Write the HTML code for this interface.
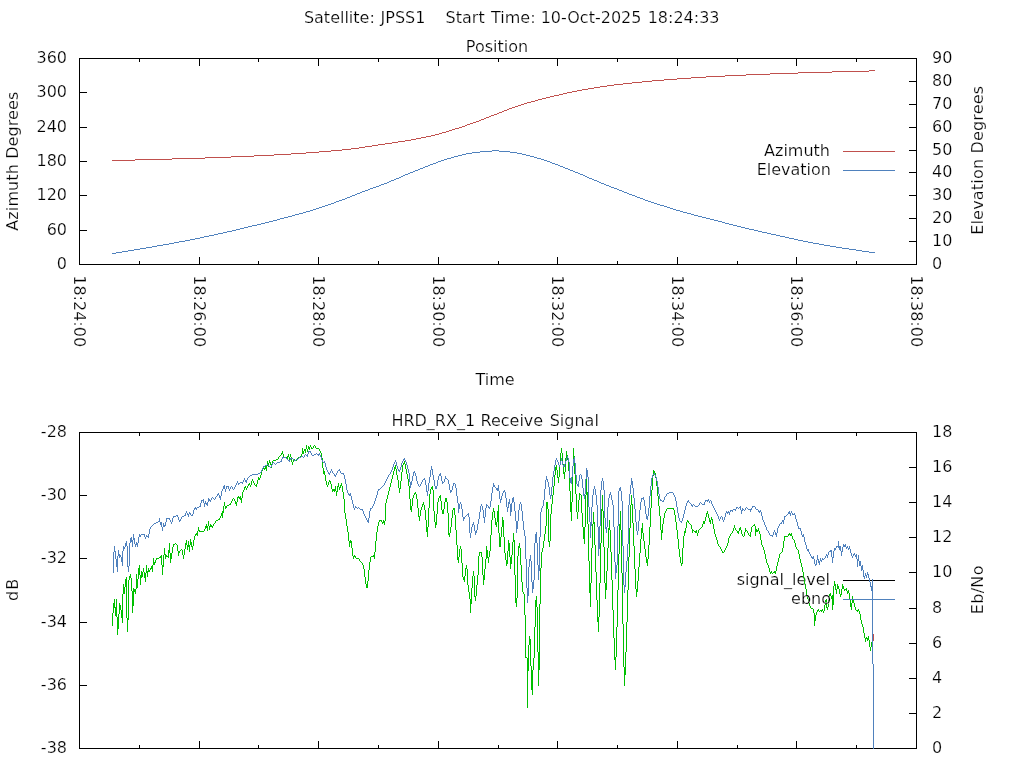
<!DOCTYPE html>
<html lang="en"><head><meta charset="utf-8"><title>JPSS1 pass plot</title>
<style>html,body{margin:0;padding:0;background:#fff;overflow:hidden}svg{display:block;will-change:transform}text{stroke:#fff;stroke-width:.22px}</style>
</head><body>
<svg width="1024" height="768" viewBox="0 0 1024 768" font-family='"DejaVu Sans", "Liberation Sans", sans-serif' font-size="16px" fill="#000">
<rect x="0" y="0" width="1024" height="768" fill="#fff"/>
<text y="23"><tspan x="303.9">Satellite: </tspan><tspan x="380.6">JPSS1 </tspan><tspan x="445.6">Start </tspan><tspan x="491">Time: </tspan><tspan x="540.7">10-Oct-2025 </tspan><tspan x="647.7">18:24:33</tspan></text>
<text x="497" y="52" text-anchor="middle">Position</text>
<text y="426"><tspan x="391.4">HRD_RX_1 </tspan><tspan x="480.5">Receive </tspan><tspan x="549.7">Signal</tspan></text>
<text x="495" y="385" text-anchor="middle">Time</text>
<rect x="79" y="58" width="838" height="1" fill="#000000"/>
<rect x="79" y="264" width="838" height="1" fill="#000000"/>
<rect x="79" y="58" width="1" height="207" fill="#000000"/>
<rect x="916" y="58" width="1" height="207" fill="#000000"/>
<rect x="79" y="257" width="1" height="8" fill="#000000"/>
<rect x="79" y="58" width="1" height="8" fill="#000000"/>
<text x="74" y="275.2" text-anchor="start" transform="rotate(90 74 275.2)">18:24:00</text>
<rect x="139" y="261" width="1" height="4" fill="#000000"/>
<rect x="139" y="58" width="1" height="4" fill="#000000"/>
<rect x="199" y="257" width="1" height="8" fill="#000000"/>
<rect x="199" y="58" width="1" height="8" fill="#000000"/>
<text x="194" y="275.2" text-anchor="start" transform="rotate(90 194 275.2)">18:26:00</text>
<rect x="258" y="261" width="1" height="4" fill="#000000"/>
<rect x="258" y="58" width="1" height="4" fill="#000000"/>
<rect x="318" y="257" width="1" height="8" fill="#000000"/>
<rect x="318" y="58" width="1" height="8" fill="#000000"/>
<text x="313" y="275.2" text-anchor="start" transform="rotate(90 313 275.2)">18:28:00</text>
<rect x="378" y="261" width="1" height="4" fill="#000000"/>
<rect x="378" y="58" width="1" height="4" fill="#000000"/>
<rect x="438" y="257" width="1" height="8" fill="#000000"/>
<rect x="438" y="58" width="1" height="8" fill="#000000"/>
<text x="433" y="275.2" text-anchor="start" transform="rotate(90 433 275.2)">18:30:00</text>
<rect x="498" y="261" width="1" height="4" fill="#000000"/>
<rect x="498" y="58" width="1" height="4" fill="#000000"/>
<rect x="557" y="257" width="1" height="8" fill="#000000"/>
<rect x="557" y="58" width="1" height="8" fill="#000000"/>
<text x="552" y="275.2" text-anchor="start" transform="rotate(90 552 275.2)">18:32:00</text>
<rect x="617" y="261" width="1" height="4" fill="#000000"/>
<rect x="617" y="58" width="1" height="4" fill="#000000"/>
<rect x="677" y="257" width="1" height="8" fill="#000000"/>
<rect x="677" y="58" width="1" height="8" fill="#000000"/>
<text x="672" y="275.2" text-anchor="start" transform="rotate(90 672 275.2)">18:34:00</text>
<rect x="737" y="261" width="1" height="4" fill="#000000"/>
<rect x="737" y="58" width="1" height="4" fill="#000000"/>
<rect x="796" y="257" width="1" height="8" fill="#000000"/>
<rect x="796" y="58" width="1" height="8" fill="#000000"/>
<text x="791" y="275.2" text-anchor="start" transform="rotate(90 791 275.2)">18:36:00</text>
<rect x="856" y="261" width="1" height="4" fill="#000000"/>
<rect x="856" y="58" width="1" height="4" fill="#000000"/>
<rect x="916" y="257" width="1" height="8" fill="#000000"/>
<rect x="916" y="58" width="1" height="8" fill="#000000"/>
<text x="911" y="275.2" text-anchor="start" transform="rotate(90 911 275.2)">18:38:00</text>
<rect x="79" y="264" width="8" height="1" fill="#000000"/>
<text x="67" y="269" text-anchor="end">0</text>
<rect x="79" y="230" width="8" height="1" fill="#000000"/>
<text x="67" y="235" text-anchor="end">60</text>
<rect x="79" y="195" width="8" height="1" fill="#000000"/>
<text x="67" y="200" text-anchor="end">120</text>
<rect x="79" y="161" width="8" height="1" fill="#000000"/>
<text x="67" y="166" text-anchor="end">180</text>
<rect x="79" y="127" width="8" height="1" fill="#000000"/>
<text x="67" y="132" text-anchor="end">240</text>
<rect x="79" y="92" width="8" height="1" fill="#000000"/>
<text x="67" y="97" text-anchor="end">300</text>
<rect x="79" y="58" width="8" height="1" fill="#000000"/>
<text x="67" y="63" text-anchor="end">360</text>
<rect x="909" y="264" width="8" height="1" fill="#000000"/>
<text x="932" y="269" text-anchor="start">0</text>
<rect x="909" y="241" width="8" height="1" fill="#000000"/>
<text x="932" y="246" text-anchor="start">10</text>
<rect x="909" y="218" width="8" height="1" fill="#000000"/>
<text x="932" y="223" text-anchor="start">20</text>
<rect x="909" y="195" width="8" height="1" fill="#000000"/>
<text x="932" y="200" text-anchor="start">30</text>
<rect x="909" y="172" width="8" height="1" fill="#000000"/>
<text x="932" y="177" text-anchor="start">40</text>
<rect x="909" y="150" width="8" height="1" fill="#000000"/>
<text x="932" y="155" text-anchor="start">50</text>
<rect x="909" y="127" width="8" height="1" fill="#000000"/>
<text x="932" y="132" text-anchor="start">60</text>
<rect x="909" y="104" width="8" height="1" fill="#000000"/>
<text x="932" y="109" text-anchor="start">70</text>
<rect x="909" y="81" width="8" height="1" fill="#000000"/>
<text x="932" y="86" text-anchor="start">80</text>
<rect x="909" y="58" width="8" height="1" fill="#000000"/>
<text x="932" y="63" text-anchor="start">90</text>
<text x="18" y="161.2" text-anchor="middle" transform="rotate(-90 18 161.2)" textLength="139">Azimuth Degrees</text>
<text x="983" y="160.3" text-anchor="middle" transform="rotate(-90 983 160.3)" textLength="149">Elevation Degrees</text>
<path d="M869 70.5H875M832 71.5H869M798 72.5H832M770 73.5H798M746 74.5H770M725 75.5H746M706 76.5H725M691 77.5H706M677 78.5H691M664 79.5H677M652 80.5H664M642 81.5H652M632 82.5H642M623 83.5H632M614 84.5H623M607 85.5H614M600 86.5H607M594 87.5H600M588 88.5H594M582 89.5H588M577 90.5H582M572 91.5H577M567 92.5H572M563 93.5H567M559 94.5H563M554 95.5H559M550 96.5H554M546 97.5H550M542 98.5H546M538 99.5H542M535 100.5H538M531 101.5H535M527 102.5H531M524 103.5H527M521 104.5H524M518 105.5H521M515 106.5H518M512 107.5H515M509 108.5H512M507 109.5H509M504 110.5H507M502 111.5H504M499 112.5H502M497 113.5H499M494 114.5H497M491 115.5H494M489 116.5H491M486 117.5H489M484 118.5H486M481 119.5H484M479 120.5H481M476 121.5H479M473 122.5H476M470 123.5H473M467 124.5H470M465 125.5H467M462 126.5H465M459 127.5H462M455 128.5H459M452 129.5H455M449 130.5H452M446 131.5H449M442 132.5H446M439 133.5H442M435 134.5H439M431 135.5H435M426 136.5H431M421 137.5H426M416 138.5H421M411 139.5H416M405 140.5H411M398 141.5H405M392 142.5H398M385 143.5H392M378 144.5H385M372 145.5H378M365 146.5H372M359 147.5H365M351 148.5H359M342 149.5H351M331 150.5H342M319 151.5H331M306 152.5H319M291 153.5H306M274 154.5H291M254 155.5H274M231 156.5H254M205 157.5H231M172 158.5H205M135 159.5H172M112 160.5H135" fill="none" stroke="#c0504d" stroke-width="1" shape-rendering="crispEdges"/>
<path d="M492 150.5H499M480 151.5H492M499 151.5H510M472 152.5H480M510 152.5H517M466 153.5H472M517 153.5H522M462 154.5H466M522 154.5H526M458 155.5H462M526 155.5H530M454 156.5H458M530 156.5H534M451 157.5H454M534 157.5H537M447 158.5H451M537 158.5H541M444 159.5H447M541 159.5H544M441 160.5H444M544 160.5H547M438 161.5H441M547 161.5H550M436 162.5H438M550 162.5H552M433 163.5H436M552 163.5H555M430 164.5H433M555 164.5H558M428 165.5H430M558 165.5H560M425 166.5H428M560 166.5H563M423 167.5H425M563 167.5H565M420 168.5H423M565 168.5H568M418 169.5H420M568 169.5H570M415 170.5H418M570 170.5H573M413 171.5H415M573 171.5H575M410 172.5H413M575 172.5H578M408 173.5H410M578 173.5H580M405 174.5H408M580 174.5H583M403 175.5H405M583 175.5H585M401 176.5H403M585 176.5H587M399 177.5H401M587 177.5H589M396 178.5H399M589 178.5H592M394 179.5H396M592 179.5H594M391 180.5H394M594 180.5H597M389 181.5H391M597 181.5H599M387 182.5H389M599 182.5H601M384 183.5H387M601 183.5H604M381 184.5H384M604 184.5H606M379 185.5H381M606 185.5H609M376 186.5H379M609 186.5H611M373 187.5H376M611 187.5H614M370 188.5H373M614 188.5H617M368 189.5H370M617 189.5H619M365 190.5H368M619 190.5H622M362 191.5H365M622 191.5H624M360 192.5H362M624 192.5H627M357 193.5H360M627 193.5H629M355 194.5H357M629 194.5H632M352 195.5H355M632 195.5H635M350 196.5H352M635 196.5H637M347 197.5H350M637 197.5H640M345 198.5H347M640 198.5H643M342 199.5H345M643 199.5H645M339 200.5H342M645 200.5H648M336 201.5H339M648 201.5H651M334 202.5H336M651 202.5H654M331 203.5H334M654 203.5H657M328 204.5H331M657 204.5H660M325 205.5H328M660 205.5H664M322 206.5H325M664 206.5H667M319 207.5H322M667 207.5H670M316 208.5H319M670 208.5H673M313 209.5H316M673 209.5H676M310 210.5H313M676 210.5H680M306 211.5H310M680 211.5H683M303 212.5H306M683 212.5H687M299 213.5H303M687 213.5H691M295 214.5H299M691 214.5H694M292 215.5H295M694 215.5H698M288 216.5H292M698 216.5H702M284 217.5H288M702 217.5H706M280 218.5H284M706 218.5H710M277 219.5H280M710 219.5H714M273 220.5H277M714 220.5H718M269 221.5H273M718 221.5H722M265 222.5H269M722 222.5H725M261 223.5H265M725 223.5H729M257 224.5H261M729 224.5H733M252 225.5H257M733 225.5H737M248 226.5H252M737 226.5H741M244 227.5H248M741 227.5H745M240 228.5H244M745 228.5H749M236 229.5H240M749 229.5H754M232 230.5H236M754 230.5H758M227 231.5H232M758 231.5H762M223 232.5H227M762 232.5H767M218 233.5H223M767 233.5H771M214 234.5H218M771 234.5H776M209 235.5H214M776 235.5H780M204 236.5H209M780 236.5H785M200 237.5H204M785 237.5H789M195 238.5H200M789 238.5H794M190 239.5H195M794 239.5H798M185 240.5H190M798 240.5H803M179 241.5H185M803 241.5H808M174 242.5H179M808 242.5H813M169 243.5H174M813 243.5H819M163 244.5H169M819 244.5H824M157 245.5H163M824 245.5H830M152 246.5H157M830 246.5H836M146 247.5H152M836 247.5H842M140 248.5H146M842 248.5H849M134 249.5H140M849 249.5H856M128 250.5H134M856 250.5H862M122 251.5H128M862 251.5H869M116 252.5H122M869 252.5H875M112 253.5H116" fill="none" stroke="#4f81bd" stroke-width="1" shape-rendering="crispEdges"/>
<text x="830" y="156" text-anchor="end">Azimuth</text>
<text x="831" y="175" text-anchor="end">Elevation</text>
<rect x="843" y="151" width="52" height="1" fill="#c0504d"/>
<rect x="843" y="170" width="52" height="1" fill="#4f81bd"/>
<rect x="79" y="432" width="838" height="1" fill="#000000"/>
<rect x="79" y="748" width="838" height="1" fill="#000000"/>
<rect x="79" y="432" width="1" height="317" fill="#000000"/>
<rect x="916" y="432" width="1" height="317" fill="#000000"/>
<rect x="79" y="741" width="1" height="8" fill="#000000"/>
<rect x="79" y="432" width="1" height="8" fill="#000000"/>
<rect x="139" y="745" width="1" height="4" fill="#000000"/>
<rect x="139" y="432" width="1" height="4" fill="#000000"/>
<rect x="199" y="741" width="1" height="8" fill="#000000"/>
<rect x="199" y="432" width="1" height="8" fill="#000000"/>
<rect x="258" y="745" width="1" height="4" fill="#000000"/>
<rect x="258" y="432" width="1" height="4" fill="#000000"/>
<rect x="318" y="741" width="1" height="8" fill="#000000"/>
<rect x="318" y="432" width="1" height="8" fill="#000000"/>
<rect x="378" y="745" width="1" height="4" fill="#000000"/>
<rect x="378" y="432" width="1" height="4" fill="#000000"/>
<rect x="438" y="741" width="1" height="8" fill="#000000"/>
<rect x="438" y="432" width="1" height="8" fill="#000000"/>
<rect x="498" y="745" width="1" height="4" fill="#000000"/>
<rect x="498" y="432" width="1" height="4" fill="#000000"/>
<rect x="557" y="741" width="1" height="8" fill="#000000"/>
<rect x="557" y="432" width="1" height="8" fill="#000000"/>
<rect x="617" y="745" width="1" height="4" fill="#000000"/>
<rect x="617" y="432" width="1" height="4" fill="#000000"/>
<rect x="677" y="741" width="1" height="8" fill="#000000"/>
<rect x="677" y="432" width="1" height="8" fill="#000000"/>
<rect x="737" y="745" width="1" height="4" fill="#000000"/>
<rect x="737" y="432" width="1" height="4" fill="#000000"/>
<rect x="796" y="741" width="1" height="8" fill="#000000"/>
<rect x="796" y="432" width="1" height="8" fill="#000000"/>
<rect x="856" y="745" width="1" height="4" fill="#000000"/>
<rect x="856" y="432" width="1" height="4" fill="#000000"/>
<rect x="916" y="741" width="1" height="8" fill="#000000"/>
<rect x="916" y="432" width="1" height="8" fill="#000000"/>
<rect x="79" y="748" width="8" height="1" fill="#000000"/>
<text x="67" y="753" text-anchor="end">-38</text>
<rect x="79" y="685" width="8" height="1" fill="#000000"/>
<text x="67" y="690" text-anchor="end">-36</text>
<rect x="79" y="622" width="8" height="1" fill="#000000"/>
<text x="67" y="627" text-anchor="end">-34</text>
<rect x="79" y="558" width="8" height="1" fill="#000000"/>
<text x="67" y="563" text-anchor="end">-32</text>
<rect x="79" y="495" width="8" height="1" fill="#000000"/>
<text x="67" y="500" text-anchor="end">-30</text>
<rect x="79" y="432" width="8" height="1" fill="#000000"/>
<text x="67" y="437" text-anchor="end">-28</text>
<rect x="909" y="748" width="8" height="1" fill="#000000"/>
<text x="932" y="753" text-anchor="start">0</text>
<rect x="909" y="713" width="8" height="1" fill="#000000"/>
<text x="932" y="718" text-anchor="start">2</text>
<rect x="909" y="678" width="8" height="1" fill="#000000"/>
<text x="932" y="683" text-anchor="start">4</text>
<rect x="909" y="643" width="8" height="1" fill="#000000"/>
<text x="932" y="648" text-anchor="start">6</text>
<rect x="909" y="608" width="8" height="1" fill="#000000"/>
<text x="932" y="613" text-anchor="start">8</text>
<rect x="909" y="572" width="8" height="1" fill="#000000"/>
<text x="932" y="577" text-anchor="start">10</text>
<rect x="909" y="537" width="8" height="1" fill="#000000"/>
<text x="932" y="542" text-anchor="start">12</text>
<rect x="909" y="502" width="8" height="1" fill="#000000"/>
<text x="932" y="507" text-anchor="start">14</text>
<rect x="909" y="467" width="8" height="1" fill="#000000"/>
<text x="932" y="472" text-anchor="start">16</text>
<rect x="909" y="432" width="8" height="1" fill="#000000"/>
<text x="932" y="437" text-anchor="start">18</text>
<text x="18" y="589.9" text-anchor="middle" transform="rotate(-90 18 589.9)" textLength="22.4">dB</text>
<text x="983" y="589.9" text-anchor="middle" transform="rotate(-90 983 589.9)" textLength="48.7">Eb/No</text>
<text x="830" y="585" text-anchor="end">signal_level</text>
<rect x="843" y="580" width="52" height="1" fill="#000000"/>
<path d="M112.5 613V626M113.5 603V613M114.5 599V608M115.5 607V616M116.5 599V617M117.5 617V635M118.5 614V629M119.5 603V614M120.5 605V610M121.5 610V618M122.5 594V623M123.5 584V594M124.5 587V594M125.5 579V587M126.5 577V618M127.5 618V632M128.5 580V620M129.5 576V580M130.5 574V578M131.5 578V591M132.5 591V613M133.5 588V606M134.5 589V592M135.5 589V594M136.5 574V589M137.5 579V588M138.5 568V579M139.5 565V575M140.5 575V585M141.5 571V578M142.5 572V577M143.5 568V572M144.5 572V578M145.5 573V582M146.5 565V573M147.5 571V577M148.5 568V572M149.5 570V572M150.5 568V570M151.5 566V569M152.5 565V572M153.5 558V565M154.5 562V565M155.5 560V563M156.5 558V560M157.5 558V559M158.5 558V559M159.5 557V558M160.5 556V558M161.5 555V565M162.5 565V575M163.5 555V567M164.5 548V555M165.5 554V559M166.5 555V557M167.5 556V557M168.5 550V558M169.5 543V553M170.5 553V563M171.5 553V559M172.5 547V553M173.5 544V547M174.5 544V545M175.5 543V544M176.5 544V545M177.5 545V551M178.5 551V556M179.5 551V553M180.5 550V551M181.5 549V550M182.5 550V555M183.5 555V559M184.5 549V555M185.5 543V549M186.5 540V545M187.5 545V550M188.5 541V547M189.5 545V552M190.5 539V545M191.5 542V547M192.5 546V550M193.5 540V546M194.5 536V540M195.5 534V536M196.5 533V535M197.5 531V536M198.5 527V531M199.5 530V532M200.5 531V532M201.5 531V532M202.5 531V532M203.5 531V532M204.5 529V531M205.5 526V529M206.5 524V528M207.5 526V531M208.5 521V526M209.5 526V530M210.5 524V527M211.5 525V527M212.5 526V528M213.5 524V526M214.5 523V524M215.5 521V523M216.5 520V521M217.5 520V521M218.5 519V520M219.5 518V520M220.5 516V518M221.5 513V516M222.5 511V518M223.5 506V513M224.5 502V506M225.5 506V509M226.5 506V508M227.5 505V506M228.5 505V506M229.5 504V505M230.5 503V505M231.5 501V503M232.5 499V501M233.5 498V499M234.5 499V501M235.5 501V504M236.5 502V506M237.5 497V502M238.5 496V498M239.5 497V499M240.5 496V500M241.5 498V503M242.5 492V498M243.5 490V492M244.5 487V490M245.5 486V488M246.5 488V490M247.5 486V488M248.5 484V486M249.5 483V485M250.5 485V487M251.5 481V485M252.5 479V481M253.5 481V483M254.5 483V485M255.5 485V486M256.5 484V487M257.5 480V484M258.5 477V480M259.5 478V480M260.5 475V478M261.5 471V475M262.5 468V471M263.5 467V469M264.5 468V470M265.5 466V469M266.5 466V471M267.5 461V466M268.5 463V467M269.5 460V463M270.5 462V465M271.5 464V468M272.5 461V464M273.5 460V461M274.5 460V461M275.5 460V461M276.5 459V460M277.5 459V460M278.5 457V459M279.5 456V457M280.5 455V456M281.5 453V455M282.5 451V454M283.5 454V457M284.5 457V458M285.5 457V458M286.5 457V458M287.5 456V459M288.5 454V457M289.5 457V460M290.5 454V457M291.5 457V462M292.5 462V465M293.5 459V462M294.5 459V460M295.5 460V461M296.5 460V461M297.5 458V460M298.5 457V458M299.5 457V458M300.5 456V458M301.5 454V456M302.5 448V454M303.5 451V454M304.5 449V451M305.5 449V453M306.5 445V449M307.5 449V452M308.5 446V449M309.5 447V450M310.5 445V447M311.5 447V449M312.5 448V449M313.5 446V448M314.5 445V446M315.5 446V448M316.5 448V449M317.5 448V449M318.5 448V449M319.5 449V451M320.5 451V453M321.5 453V458M322.5 458V468M323.5 468V474M324.5 471V475M325.5 475V481M326.5 481V485M327.5 485V487M328.5 482V485M329.5 480V482M330.5 481V484M331.5 484V489M332.5 489V492M333.5 489V491M334.5 489V492M335.5 486V491M336.5 491V496M337.5 486V492M338.5 483V487M339.5 487V490M340.5 485V488M341.5 483V486M342.5 486V492M343.5 492V499M344.5 499V513M345.5 513V519M346.5 519V526M347.5 526V532M348.5 532V541M349.5 541V547M350.5 540V543M351.5 541V548M352.5 548V556M353.5 556V559M354.5 555V557M355.5 556V558M356.5 558V559M357.5 558V559M358.5 558V559M359.5 559V561M360.5 561V562M361.5 562V563M362.5 563V565M363.5 565V569M364.5 569V577M365.5 577V584M366.5 584V588M367.5 581V588M368.5 570V581M369.5 562V570M370.5 557V562M371.5 556V557M372.5 556V557M373.5 555V557M374.5 552V559M375.5 541V552M376.5 532V541M377.5 526V532M378.5 522V526M379.5 520V522M380.5 520V521M381.5 520V522M382.5 522V524M383.5 520V523M384.5 521V525M385.5 503V521M386.5 499V503M387.5 495V499M388.5 491V495M389.5 487V491M390.5 483V487M391.5 479V483M392.5 475V479M393.5 471V475M394.5 467V471M395.5 465V469M396.5 469V475M397.5 475V480M398.5 480V488M399.5 488V493M400.5 481V489M401.5 472V481M402.5 465V472M403.5 463V465M404.5 461V464M405.5 464V469M406.5 469V474M407.5 474V479M408.5 479V486M409.5 486V499M410.5 499V510M411.5 506V512M412.5 498V506M413.5 495V498M414.5 493V495M415.5 492V494M416.5 494V499M417.5 499V508M418.5 508V517M419.5 516V521M420.5 510V516M421.5 507V510M422.5 504V507M423.5 502V505M424.5 505V510M425.5 510V520M426.5 520V532M427.5 527V537M428.5 508V527M429.5 494V508M430.5 489V494M431.5 487V489M432.5 486V490M433.5 490V511M434.5 511V522M435.5 522V528M436.5 514V525M437.5 502V514M438.5 498V502M439.5 496V498M440.5 495V501M441.5 501V510M442.5 510V514M443.5 509V514M444.5 502V509M445.5 498V502M446.5 498V502M447.5 502V513M448.5 513V535M449.5 533V537M450.5 527V533M451.5 518V527M452.5 510V518M453.5 508V510M454.5 508V515M455.5 515V530M456.5 530V545M457.5 545V560M458.5 557V563M459.5 549V557M460.5 546V549M461.5 549V563M462.5 563V577M463.5 577V580M464.5 576V582M465.5 568V576M466.5 565V569M467.5 569V585M468.5 585V592M469.5 592V599M470.5 599V613M471.5 588V604M472.5 576V588M473.5 571V576M474.5 576V597M475.5 596V601M476.5 585V596M477.5 575V585M478.5 556V575M479.5 552V556M480.5 552V553M481.5 552V557M482.5 557V575M483.5 575V585M484.5 569V580M485.5 559V569M486.5 546V559M487.5 550V558M488.5 557V563M489.5 551V557M490.5 535V551M491.5 520V535M492.5 512V520M493.5 508V512M494.5 511V518M495.5 518V525M496.5 522V527M497.5 511V522M498.5 505V533M499.5 533V547M500.5 537V547M501.5 527V537M502.5 517V527M503.5 520V537M504.5 537V553M505.5 553V560M506.5 560V566M507.5 551V564M508.5 540V551M509.5 543V557M510.5 557V569M511.5 555V564M512.5 542V555M513.5 533V542M514.5 540V575M515.5 575V603M516.5 598V607M517.5 556V598M518.5 546V556M519.5 543V548M520.5 548V565M521.5 565V582M522.5 582V592M523.5 592V594M524.5 594V615M525.5 615V658M526.5 657V658M527.5 658V708M528.5 645V671M529.5 636V645M530.5 639V666M531.5 666V690M532.5 670V695M533.5 658V670M534.5 627V658M535.5 600V627M536.5 596V607M537.5 607V652M538.5 652V686M539.5 604V670M540.5 568V604M541.5 552V568M542.5 548V552M543.5 541V548M544.5 534V541M545.5 526V534M546.5 502V526M547.5 502V509M548.5 509V542M549.5 541V547M550.5 514V541M551.5 504V514M552.5 495V504M553.5 486V495M554.5 475V486M555.5 467V475M556.5 465V470M557.5 470V478M558.5 477V483M559.5 465V477M560.5 453V465M561.5 448V453M562.5 453V464M563.5 464V474M564.5 472V479M565.5 458V472M566.5 451V458M567.5 455V460M568.5 460V471M569.5 471V491M570.5 491V512M571.5 502V521M572.5 466V502M573.5 448V466M574.5 456V474M575.5 474V494M576.5 494V512M577.5 512V519M578.5 500V512M579.5 493V500M580.5 494V495M581.5 495V513M582.5 513V527M583.5 527V539M584.5 527V544M585.5 495V527M586.5 478V495M587.5 492V524M588.5 524V561M589.5 561V593M590.5 583V607M591.5 548V583M592.5 524V548M593.5 512V524M594.5 522V545M595.5 545V572M596.5 572V600M597.5 600V622M598.5 617V632M599.5 583V617M600.5 543V583M601.5 509V543M602.5 495V511M603.5 511V547M604.5 547V583M605.5 583V599M606.5 571V590M607.5 548V571M608.5 528V548M609.5 520V530M610.5 530V552M611.5 552V580M612.5 580V610M613.5 610V638M614.5 638V660M615.5 657V670M616.5 627V657M617.5 590V627M618.5 554V590M619.5 524V554M620.5 511V530M621.5 530V573M622.5 573V624M623.5 624V667M624.5 667V686M625.5 652V675M626.5 622V652M627.5 590V622M628.5 557V590M629.5 528V557M630.5 505V528M631.5 495V505M632.5 504V523M633.5 523V546M634.5 546V569M635.5 569V589M636.5 589V597M637.5 581V592M638.5 567V581M639.5 553V567M640.5 539V553M641.5 528V539M642.5 523V533M643.5 533V541M644.5 541V549M645.5 549V557M646.5 557V563M647.5 559V566M648.5 545V559M649.5 527V545M650.5 508V527M651.5 490V508M652.5 476V490M653.5 470V476M654.5 471V473M655.5 473V478M656.5 478V486M657.5 486V496M658.5 496V506M659.5 506V516M660.5 516V530M661.5 530V540M662.5 524V533M663.5 518V524M664.5 513V518M665.5 511V513M666.5 509V511M667.5 508V509M668.5 508V509M669.5 508V509M670.5 508V509M671.5 508V509M672.5 508V509M673.5 508V510M674.5 510V515M675.5 515V522M676.5 522V530M677.5 530V539M678.5 539V549M679.5 549V557M680.5 557V563M681.5 563V566M682.5 548V564M683.5 536V548M684.5 531V536M685.5 528V533M686.5 522V528M687.5 520V522M688.5 521V523M689.5 523V524M690.5 524V525M691.5 525V529M692.5 529V533M693.5 530V531M694.5 531V532M695.5 531V533M696.5 530V533M697.5 533V536M698.5 530V533M699.5 529V530M700.5 528V529M701.5 527V528M702.5 524V527M703.5 521V524M704.5 521V524M705.5 517V521M706.5 513V517M707.5 511V514M708.5 514V518M709.5 518V522M710.5 520V524M711.5 517V520M712.5 519V524M713.5 524V529M714.5 529V534M715.5 534V537M716.5 537V540M717.5 540V544M718.5 544V546M719.5 546V547M720.5 547V549M721.5 549V551M722.5 551V553M723.5 552V553M724.5 550V552M725.5 548V550M726.5 546V548M727.5 543V546M728.5 538V543M729.5 536V538M730.5 534V536M731.5 533V534M732.5 531V533M733.5 528V531M734.5 525V528M735.5 528V530M736.5 530V531M737.5 531V533M738.5 531V534M739.5 528V531M740.5 527V530M741.5 530V534M742.5 534V536M743.5 536V537M744.5 532V536M745.5 528V532M746.5 530V531M747.5 531V533M748.5 533V535M749.5 535V536M750.5 532V537M751.5 527V532M752.5 526V527M753.5 525V526M754.5 524V526M755.5 526V536M756.5 529V532M757.5 530V532M758.5 528V531M759.5 531V534M760.5 534V540M761.5 540V545M762.5 545V547M763.5 547V550M764.5 550V554M765.5 554V559M766.5 559V563M767.5 563V565M768.5 565V568M769.5 568V572M770.5 572V574M771.5 571V573M772.5 573V574M773.5 572V573M774.5 571V573M775.5 571V574M776.5 566V571M777.5 562V566M778.5 558V562M779.5 554V558M780.5 553V554M781.5 552V553M782.5 548V552M783.5 541V548M784.5 536V541M785.5 536V537M786.5 536V537M787.5 536V537M788.5 534V536M789.5 533V535M790.5 534V536M791.5 533V536M792.5 536V539M793.5 539V540M794.5 540V543M795.5 543V547M796.5 547V549M797.5 549V550M798.5 550V554M799.5 554V559M800.5 559V563M801.5 563V567M802.5 567V572M803.5 572V578M804.5 578V584M805.5 584V589M806.5 589V595M807.5 595V599M808.5 599V603M809.5 603V606M810.5 606V608M811.5 608V609M812.5 608V609M813.5 609V613M814.5 613V626M815.5 615V621M816.5 612V615M817.5 610V612M818.5 609V611M819.5 611V612M820.5 610V611M821.5 610V612M822.5 609V611M823.5 611V613M824.5 605V611M825.5 600V605M826.5 599V608M827.5 607V610M828.5 600V607M829.5 594V600M830.5 593V596M831.5 596V599M832.5 595V610M833.5 586V605M834.5 581V586M835.5 584V590M836.5 589V594M837.5 584V589M838.5 586V589M839.5 589V594M840.5 594V597M841.5 589V595M842.5 584V589M843.5 586V589M844.5 589V591M845.5 589V590M846.5 588V591M847.5 591V594M848.5 590V593M849.5 593V599M850.5 599V607M851.5 603V610M852.5 596V603M853.5 599V603M854.5 603V607M855.5 607V610M856.5 610V611M857.5 610V612M858.5 609V611M859.5 611V614M860.5 614V620M861.5 620V624M862.5 624V627M863.5 627V633M864.5 633V638M865.5 638V642M866.5 637V639M867.5 638V641M868.5 636V640M869.5 640V647M870.5 647V651M871.5 642V647M872.5 641V642" fill="none" stroke="#00c000" stroke-width="1" shape-rendering="crispEdges"/>
<text x="831" y="604" text-anchor="end">ebno</text>
<rect x="843" y="599" width="52" height="1" fill="#4f81bd"/>
<path d="M113.5 552V573M114.5 546V552M115.5 551V559M116.5 559V567M117.5 556V572M118.5 550V556M119.5 554V558M120.5 555V557M121.5 557V562M122.5 551V566M123.5 546V551M124.5 547V549M125.5 543V547M126.5 541V546M127.5 546V567M128.5 566V572M129.5 543V566M130.5 538V543M131.5 537V542M132.5 540V547M133.5 534V540M134.5 538V544M135.5 544V547M136.5 542V545M137.5 543V547M138.5 537V543M139.5 534V537M140.5 535V537M141.5 534V535M142.5 534V535M143.5 534V535M144.5 534V537M145.5 537V539M146.5 535V537M147.5 536V537M148.5 534V538M149.5 529V534M150.5 527V529M151.5 526V527M152.5 525V526M153.5 524V525M154.5 523V524M155.5 523V524M156.5 522V523M157.5 522V523M158.5 521V522M159.5 518V522M160.5 522V525M161.5 522V527M162.5 527V531M163.5 523V527M164.5 525V527M165.5 522V526M166.5 518V522M167.5 518V519M168.5 518V519M169.5 518V520M170.5 520V522M171.5 522V524M172.5 518V522M173.5 516V518M174.5 516V517M175.5 516V517M176.5 515V516M177.5 515V517M178.5 517V520M179.5 520V522M180.5 519V521M181.5 517V519M182.5 516V517M183.5 516V517M184.5 515V516M185.5 513V516M186.5 511V513M187.5 513V515M188.5 514V517M189.5 512V514M190.5 513V515M191.5 515V516M192.5 514V516M193.5 510V514M194.5 508V510M195.5 507V509M196.5 508V510M197.5 507V508M198.5 507V508M199.5 506V507M200.5 503V507M201.5 500V503M202.5 500V501M203.5 499V503M204.5 503V507M205.5 501V504M206.5 503V505M207.5 502V506M208.5 498V502M209.5 499V501M210.5 500V502M211.5 498V500M212.5 497V498M213.5 498V499M214.5 499V500M215.5 497V499M216.5 496V497M217.5 494V496M218.5 493V495M219.5 495V498M220.5 496V500M221.5 491V496M222.5 489V491M223.5 486V489M224.5 485V489M225.5 489V492M226.5 486V489M227.5 486V487M228.5 486V489M229.5 489V491M230.5 487V489M231.5 486V487M232.5 487V489M233.5 489V490M234.5 487V489M235.5 485V487M236.5 483V485M237.5 481V483M238.5 483V485M239.5 483V484M240.5 482V483M241.5 482V483M242.5 482V484M243.5 480V482M244.5 478V480M245.5 480V482M246.5 480V483M247.5 478V480M248.5 477V478M249.5 476V477M250.5 475V476M251.5 475V476M252.5 474V475M253.5 474V475M254.5 474V475M255.5 474V475M256.5 474V475M257.5 474V475M258.5 473V474M259.5 473V474M260.5 472V473M261.5 470V472M262.5 468V470M263.5 466V468M264.5 466V467M265.5 465V466M266.5 465V466M267.5 464V465M268.5 465V466M269.5 466V467M270.5 467V468M271.5 465V467M272.5 463V465M273.5 462V463M274.5 463V464M275.5 464V465M276.5 463V464M277.5 462V463M278.5 462V463M279.5 462V463M280.5 461V462M281.5 459V462M282.5 457V459M283.5 457V458M284.5 457V458M285.5 457V458M286.5 458V459M287.5 459V460M288.5 460V461M289.5 460V462M290.5 458V460M291.5 458V459M292.5 458V459M293.5 459V460M294.5 460V461M295.5 460V461M296.5 459V460M297.5 459V460M298.5 458V459M299.5 457V458M300.5 457V458M301.5 456V457M302.5 456V457M303.5 457V458M304.5 455V457M305.5 454V455M306.5 455V456M307.5 454V457M308.5 451V454M309.5 451V452M310.5 451V453M311.5 453V455M312.5 455V456M313.5 455V456M314.5 454V455M315.5 454V455M316.5 453V454M317.5 454V455M318.5 454V456M319.5 453V455M320.5 455V457M321.5 457V460M322.5 460V462M323.5 462V463M324.5 461V463M325.5 463V467M326.5 467V470M327.5 470V472M328.5 472V474M329.5 473V475M330.5 471V473M331.5 469V471M332.5 471V473M333.5 473V474M334.5 474V476M335.5 475V477M336.5 473V475M337.5 471V473M338.5 470V471M339.5 469V471M340.5 471V473M341.5 473V474M342.5 473V474M343.5 473V475M344.5 475V479M345.5 479V484M346.5 484V490M347.5 490V493M348.5 493V495M349.5 494V496M350.5 493V496M351.5 496V500M352.5 500V504M353.5 504V508M354.5 508V510M355.5 506V508M356.5 507V508M357.5 508V509M358.5 507V508M359.5 508V509M360.5 509V510M361.5 509V510M362.5 509V511M363.5 511V514M364.5 514V516M365.5 516V518M366.5 518V520M367.5 520V522M368.5 518V523M369.5 511V518M370.5 508V511M371.5 508V509M372.5 506V508M373.5 504V506M374.5 501V504M375.5 498V501M376.5 495V498M377.5 491V495M378.5 489V491M379.5 489V490M380.5 488V489M381.5 487V488M382.5 486V487M383.5 485V486M384.5 483V485M385.5 481V483M386.5 479V481M387.5 477V479M388.5 475V477M389.5 474V475M390.5 472V474M391.5 470V472M392.5 467V470M393.5 464V467M394.5 462V464M395.5 460V462M396.5 462V466M397.5 466V469M398.5 469V471M399.5 470V472M400.5 467V470M401.5 463V467M402.5 461V463M403.5 459V461M404.5 458V460M405.5 460V462M406.5 462V465M407.5 465V469M408.5 469V473M409.5 473V482M410.5 482V488M411.5 481V485M412.5 476V481M413.5 472V476M414.5 471V473M415.5 473V476M416.5 476V481M417.5 481V484M418.5 484V486M419.5 486V487M420.5 484V486M421.5 482V484M422.5 480V482M423.5 479V480M424.5 478V480M425.5 480V485M426.5 485V492M427.5 491V496M428.5 483V491M429.5 477V483M430.5 470V477M431.5 466V470M432.5 469V475M433.5 475V480M434.5 480V486M435.5 486V489M436.5 486V489M437.5 480V486M438.5 476V480M439.5 474V476M440.5 473V476M441.5 476V481M442.5 481V484M443.5 482V483M444.5 479V482M445.5 476V479M446.5 478V479M447.5 479V480M448.5 480V484M449.5 484V490M450.5 490V493M451.5 490V492M452.5 486V490M453.5 483V486M454.5 483V484M455.5 484V488M456.5 488V496M457.5 496V503M458.5 503V513M459.5 504V509M460.5 502V504M461.5 504V509M462.5 509V517M463.5 517V521M464.5 517V519M465.5 516V517M466.5 515V516M467.5 514V515M468.5 513V517M469.5 517V533M470.5 533V538M471.5 527V533M472.5 524V527M473.5 522V525M474.5 525V531M475.5 531V535M476.5 530V533M477.5 524V530M478.5 519V524M479.5 512V519M480.5 506V512M481.5 504V506M482.5 506V510M483.5 510V518M484.5 517V523M485.5 508V517M486.5 504V508M487.5 505V506M488.5 506V508M489.5 507V509M490.5 501V507M491.5 493V501M492.5 487V493M493.5 483V487M494.5 485V487M495.5 487V488M496.5 488V490M497.5 488V491M498.5 485V491M499.5 491V499M500.5 499V503M501.5 496V500M502.5 493V496M503.5 491V493M504.5 490V492M505.5 492V498M506.5 498V507M507.5 507V512M508.5 502V508M509.5 499V504M510.5 504V516M511.5 503V512M512.5 498V503M513.5 497V502M514.5 502V511M515.5 511V521M516.5 521V533M517.5 521V529M518.5 510V521M519.5 504V510M520.5 502V504M521.5 504V511M522.5 511V521M523.5 521V530M524.5 530V536M525.5 536V559M526.5 559V588M527.5 588V603M528.5 567V596M529.5 559V567M530.5 555V561M531.5 561V582M532.5 582V593M533.5 580V589M534.5 543V580M535.5 534V543M536.5 532V543M537.5 543V565M538.5 565V580M539.5 537V571M540.5 512V537M541.5 508V512M542.5 506V508M543.5 500V506M544.5 489V500M545.5 480V489M546.5 476V480M547.5 479V482M548.5 482V487M549.5 487V495M550.5 495V499M551.5 487V496M552.5 477V487M553.5 471V477M554.5 465V471M555.5 460V465M556.5 458V460M557.5 460V462M558.5 462V465M559.5 465V467M560.5 461V465M561.5 458V461M562.5 461V465M563.5 465V467M564.5 464V467M565.5 461V464M566.5 458V461M567.5 456V458M568.5 458V462M569.5 462V478M570.5 478V483M571.5 477V484M572.5 466V477M573.5 459V466M574.5 457V463M575.5 463V475M576.5 475V484M577.5 484V486M578.5 481V487M579.5 475V481M580.5 474V475M581.5 475V479M582.5 479V488M583.5 488V496M584.5 494V499M585.5 479V494M586.5 468V479M587.5 470V477M588.5 477V507M589.5 507V522M590.5 522V538M591.5 507V526M592.5 495V507M593.5 489V495M594.5 486V489M595.5 489V495M596.5 495V505M597.5 505V527M598.5 527V556M599.5 526V549M600.5 490V526M601.5 481V490M602.5 478V481M603.5 481V490M604.5 490V518M605.5 518V529M606.5 527V533M607.5 507V527M608.5 498V507M609.5 494V498M610.5 492V495M611.5 495V500M612.5 500V505M613.5 505V527M614.5 527V562M615.5 562V579M616.5 565V573M617.5 526V565M618.5 491V526M619.5 488V491M620.5 487V491M621.5 491V501M622.5 501V546M623.5 546V585M624.5 585V593M625.5 572V587M626.5 561V572M627.5 544V561M628.5 505V544M629.5 494V505M630.5 485V494M631.5 478V485M632.5 481V488M633.5 488V498M634.5 498V509M635.5 509V522M636.5 522V531M637.5 531V535M638.5 521V531M639.5 510V521M640.5 502V510M641.5 498V502M642.5 498V499M643.5 497V500M644.5 500V506M645.5 506V514M646.5 514V519M647.5 516V520M648.5 508V516M649.5 496V508M650.5 486V496M651.5 478V486M652.5 475V478M653.5 474V475M654.5 473V475M655.5 475V477M656.5 477V481M657.5 481V487M658.5 487V494M659.5 494V499M660.5 499V501M661.5 500V501M662.5 501V502M663.5 500V502M664.5 497V500M665.5 496V497M666.5 494V496M667.5 493V494M668.5 493V494M669.5 492V493M670.5 492V493M671.5 492V493M672.5 492V493M673.5 493V495M674.5 495V497M675.5 497V501M676.5 501V507M677.5 507V513M678.5 513V518M679.5 518V521M680.5 521V522M681.5 521V523M682.5 518V521M683.5 514V518M684.5 510V514M685.5 506V510M686.5 503V506M687.5 501V503M688.5 500V502M689.5 502V503M690.5 503V504M691.5 504V506M692.5 505V507M693.5 504V505M694.5 505V506M695.5 506V507M696.5 506V507M697.5 506V507M698.5 505V506M699.5 503V505M700.5 502V503M701.5 503V504M702.5 504V505M703.5 504V505M704.5 502V505M705.5 500V502M706.5 500V501M707.5 500V502M708.5 499V501M709.5 501V503M710.5 500V501M711.5 501V504M712.5 504V506M713.5 506V508M714.5 508V510M715.5 510V512M716.5 512V514M717.5 514V516M718.5 516V519M719.5 519V521M720.5 517V519M721.5 516V517M722.5 517V520M723.5 520V522M724.5 517V520M725.5 513V517M726.5 511V513M727.5 512V514M728.5 511V513M729.5 512V515M730.5 510V512M731.5 510V511M732.5 510V512M733.5 509V510M734.5 509V510M735.5 509V511M736.5 507V509M737.5 507V508M738.5 508V509M739.5 507V508M740.5 506V510M741.5 510V514M742.5 508V511M743.5 509V510M744.5 510V511M745.5 508V510M746.5 507V508M747.5 508V509M748.5 509V510M749.5 509V510M750.5 509V512M751.5 508V510M752.5 506V508M753.5 506V507M754.5 506V507M755.5 507V509M756.5 509V510M757.5 509V510M758.5 510V512M759.5 511V513M760.5 510V512M761.5 512V516M762.5 516V520M763.5 520V522M764.5 522V525M765.5 525V527M766.5 527V530M767.5 530V531M768.5 531V533M769.5 533V535M770.5 535V536M771.5 535V536M772.5 535V537M773.5 532V535M774.5 530V532M775.5 532V535M776.5 533V537M777.5 528V533M778.5 526V528M779.5 524V526M780.5 523V524M781.5 522V524M782.5 520V522M783.5 520V524M784.5 516V520M785.5 516V517M786.5 515V516M787.5 514V515M788.5 512V514M789.5 511V514M790.5 513V516M791.5 511V513M792.5 513V515M793.5 514V515M794.5 513V515M795.5 515V519M796.5 519V522M797.5 522V526M798.5 526V529M799.5 528V529M800.5 528V531M801.5 531V535M802.5 535V537M803.5 534V537M804.5 537V542M805.5 542V545M806.5 545V549M807.5 549V551M808.5 549V552M809.5 552V554M810.5 554V556M811.5 556V558M812.5 557V559M813.5 556V559M814.5 559V564M815.5 564V566M816.5 560V565M817.5 555V560M818.5 559V563M819.5 561V565M820.5 558V561M821.5 560V562M822.5 558V560M823.5 559V560M824.5 558V559M825.5 556V558M826.5 554V556M827.5 555V558M828.5 552V555M829.5 551V552M830.5 550V552M831.5 550V557M832.5 557V563M833.5 551V558M834.5 548V551M835.5 548V550M836.5 546V548M837.5 546V547M838.5 541V548M839.5 546V550M840.5 546V551M841.5 551V556M842.5 547V552M843.5 544V547M844.5 545V547M845.5 544V547M846.5 547V549M847.5 546V548M848.5 548V550M849.5 546V549M850.5 549V553M851.5 553V556M852.5 556V558M853.5 554V556M854.5 553V555M855.5 555V557M856.5 554V559M857.5 559V567M858.5 555V561M859.5 561V566M860.5 561V566M861.5 566V571M862.5 565V570M863.5 570V577M864.5 576V579M865.5 573V576M866.5 575V578M867.5 572V575M868.5 574V578M869.5 578V582M870.5 582V587M871.5 586V591M872.5 579V664M873.5 664V749" fill="none" stroke="#4f81bd" stroke-width="1" shape-rendering="crispEdges"/>
<rect x="873" y="634" width="1" height="7" fill="#c0504d"/>
</svg>
</body></html>
